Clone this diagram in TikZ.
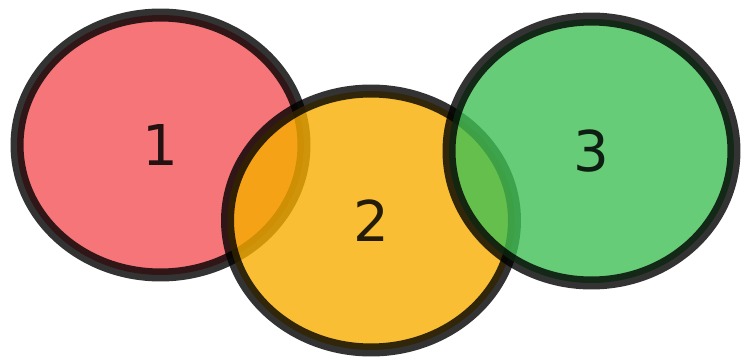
\documentclass[tikz,border=0pt]{standalone}
\usepackage{fontspec}
\setmainfont{DejaVu Sans}
\usetikzlibrary{shapes.geometric}
\definecolor{setRed}{HTML}{F25256}
\definecolor{setOrange}{HTML}{F7AE00}
\definecolor{setGreen}{HTML}{40BF55}
\tikzset{
  setblob/.style={ellipse, draw=black, line width=7.4pt, inner sep=0pt,
    fill opacity=0.8, draw opacity=0.8, text opacity=0.85, text=black,
    font=\fontsize{32}{32}\selectfont},
}

\begin{document}
\begin{tikzpicture}[x=0.02cm, y=-0.02cm]
  \useasboundingbox (0,0) rectangle (745,362);
  \node[setblob, fill=setRed, minimum width=5.74cm, minimum height=5.2cm]
    (one) at (160.5,145) {1};
  \node[setblob, fill=setOrange, minimum width=5.74cm, minimum height=5.18cm]
    (two) at (371,220.5) {2};
  \node[setblob, fill=setGreen, minimum width=5.7cm, minimum height=5.28cm]
    (three) at (591.5,151) {3};
\end{tikzpicture}
\end{document}
